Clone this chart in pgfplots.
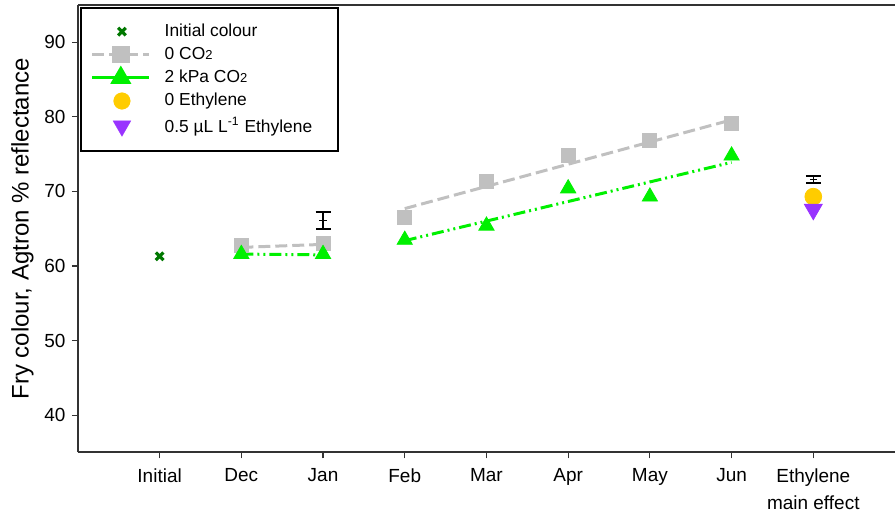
\documentclass[border=0pt]{standalone}
\usepackage{pgfplots}
\pgfplotsset{compat=1.18}
\usepackage{fontspec}
\setmainfont{Liberation Sans}
\definecolor{cgray}{RGB}{192,192,192}
\definecolor{cgreen}{RGB}{0,240,0}
\definecolor{dkgreen}{RGB}{0,120,0}
\definecolor{cyellow}{RGB}{255,204,0}
\definecolor{cpurple}{RGB}{153,51,255}
\begin{document}
\fontsize{9}{11}\selectfont
\begin{tikzpicture}
\begin{axis}[
  width=409pt, height=224pt, scale only axis,
  xmin=-1, xmax=9, ymin=35, ymax=95,
  axis x line*=box, axis y line*=left,
  axis line style={line width=1pt, black!80},
  tick align=outside, xtick pos=bottom, ytick pos=left,
  major tick length=3pt,
  tick style={line width=0.6pt, black!80},
  xtick={0,1,2,3,4,5,6,7,8},
  xticklabels={Initial,Dec,Jan,Feb,Mar,Apr,May,Jun,{Ethylene\\main effect}},
  xticklabel style={align=center, font=\fontsize{9.5}{13.5}\selectfont, inner ysep=1.5pt, yshift=-3.5pt},
  ytick={40,50,60,70,80,90},
  yticklabel style={font=\fontsize{9.5}{11}\selectfont},
  /pgf/number format/assume math mode=true,
  ylabel={Fry colour, Agtron \% reflectance},
  ylabel style={font=\fontsize{12}{13}\selectfont, at={(axis description cs:-0.068,0.5)}, anchor=center},
  legend image code/.code={\draw[mark repeat=2,mark phase=2] plot coordinates {(0cm,0cm) (0.5cm,0cm) (1cm,0cm)};},
  legend cell align=left,
  legend style={at={(rel axis cs:0,1)}, anchor=north west, xshift=1pt, yshift=-1pt,
    draw=black, line width=1pt, font=\fontsize{8.7}{10}\selectfont,
    row sep=0pt, inner xsep=5pt, inner ysep=6pt,
    /tikz/every odd column/.append style={column sep=5pt}},
]
% legend entries
\addlegendimage{legend image code/.code={\draw plot coordinates {(0.52cm,0cm)};}, mark=x, mark size=2.7pt, mark options={draw=dkgreen, line width=1.6pt, solid}}
\addlegendentry{Initial colour}
\addlegendimage{cgray, line width=1.5pt, dash pattern=on 6pt off 2.5pt, mark=square*, mark size=3.6pt, mark options={solid, fill=cgray, draw=cgray}}
\addlegendentry{0 CO{\fontsize{6.5}{7}\selectfont 2}}
\addlegendimage{cgreen, line width=1.5pt, solid, mark=triangle*, mark size=4.6pt, mark options={solid, fill=cgreen, draw=cgreen}}
\addlegendentry{2 kPa CO{\fontsize{6.5}{7}\selectfont 2}}
\addlegendimage{legend image code/.code={\draw plot coordinates {(0.52cm,0cm)};}, mark=*, mark size=4.2pt, mark options={fill=cyellow, draw=cyellow, line width=0.1pt}}
\addlegendentry{0 Ethylene}
\addlegendimage{legend image code/.code={\draw plot coordinates {(0.52cm,0cm)};}, mark=triangle*, mark size=5.2pt, mark options={rotate=180, fill=cpurple, draw=cpurple, line width=0.1pt}}
\addlegendentry{0.5 µL L\textsuperscript{-1} Ethylene\hspace*{6pt}}

% fitted lines
\addplot[cgray, line width=1.5pt, dash pattern=on 6pt off 2.5pt, forget plot] coordinates {(1,62.5) (2,62.9)};
\addplot[cgray, line width=1.5pt, dash pattern=on 6pt off 2.5pt, forget plot] coordinates {(3,67.7) (7,79.6)};
\addplot[cgreen, line width=1.5pt, dash pattern=on 6pt off 2pt on 1pt off 2pt on 1pt off 2pt, forget plot] coordinates {(1,61.6) (2,61.5)};
\addplot[cgreen, line width=1.5pt, dash pattern=on 6pt off 2pt on 1pt off 2pt on 1pt off 2pt, forget plot] coordinates {(3,63.4) (7,73.9)};

% data points
\addplot[only marks, mark=square*, mark size=3.5pt, mark options={fill=cgray, draw=cgray}, forget plot] coordinates {
 (1,62.7) (2,63.0) (3,66.5) (4,71.4) (5,74.8) (6,76.8) (7,79.1)};
\addplot[only marks, mark=triangle*, mark size=4.4pt, mark options={fill=cgreen, draw=cgreen}, forget plot] coordinates {
 (1,61.6) (2,61.6) (3,63.5) (4,65.4) (5,70.4) (6,69.3) (7,74.8)};
\addplot[only marks, mark=x, mark size=2.7pt, mark options={draw=dkgreen, line width=1.6pt}, forget plot] coordinates {(0,61.3)};
\addplot[only marks, mark=*, mark size=4.2pt, mark options={fill=cyellow, draw=cyellow}, forget plot] coordinates {(8,69.3)};
\addplot[only marks, mark=triangle*, mark size=5.2pt, mark options={rotate=180, fill=cpurple, draw=cpurple}, forget plot] coordinates {(8,67.6)};

% error bars
\addplot[black, line width=0.6pt, mark=-, mark size=1.8pt, only marks, forget plot,
  error bars/.cd, y dir=both, y explicit, error mark=|,
  error bar style={line width=0.6pt, black},
  error mark options={black, line width=1pt, mark size=3.75pt}]
  coordinates {(2,66.1) +- (0,1.1) (8,71.6) +- (0,0.5)};
\end{axis}
\path (current axis.north west) rectangle ++(1pt,2.5pt);
\path (current axis.north west) ++(-39pt,0pt) rectangle ++(1pt,1pt);
\end{tikzpicture}
\end{document}
